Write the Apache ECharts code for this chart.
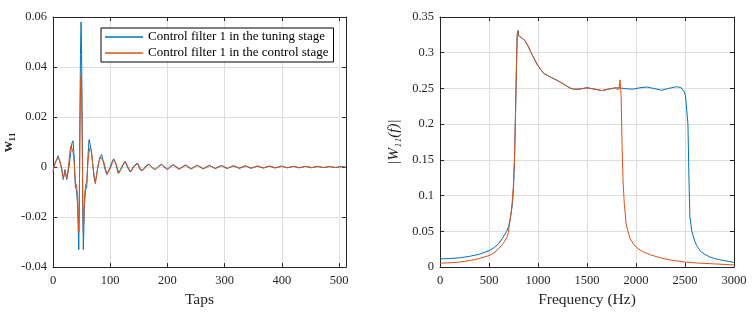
<!DOCTYPE html>
<html>
<head>
<meta charset="utf-8">
<script src="https://cdn.jsdelivr.net/npm/echarts@6/dist/echarts.min.js"></script>
<style>html,body{margin:0;padding:0;background:#fff}#c{width:754px;height:313px}</style>
</head>
<body>
<div id="c"></div>
<script>
// ---- Left panel: filter taps (tap index, coefficient) ----
var w11Tuning = [
[0,-0.0015],[3,0.001],[5,0.0005],[9,0.0045],[12,0.002],[15,0.0],[18,-0.005],[21,-0.001],[24,-0.005],
[28,0.0],[31,0.006],[33,0.0095],[35,0.0105],[37,0.004],[39,-0.008],[41,-0.009],[43,-0.015],[45,-0.033],
[46,-0.016],[47,0.02],[48,0.045],[49,0.058],[50,0.045],[51,0.02],[52,-0.016],[53,-0.033],[55,-0.015],
[57,-0.009],[59,-0.008],[61,0.004],[63,0.011],[65,0.009],[67,0.006],[70,0.0],[72,-0.004],[74,-0.006],
[77,-0.002],[80,0.002],[82,0.004],[85,0.005],[88,0.002],[91,-0.001],[94,-0.003],[97,-0.003],[100,0.0],
[103,0.002],[106,0.0033],[110,0.001],[114,-0.0026],[118,-0.001],[122,0.001],[126,0.0023],[130,0.0],
[135,-0.002],[140,0.0],[147,0.0016],[153,-0.0013],[157,-0.0012],[162,0.0004],[167,0.0012],[173,-0.0002],
[178,-0.0011],[184,0.0003],[189,0.0011],[195,-0.0002],[200,-0.001],[205,0.0003],[210,0.0009],[220,-0.0009],
[226,0.0001],[231,0.0008],[241,-0.0008],[247,0.0001],[252,0.0007],[262,-0.0007],[273,0.0007],[283,-0.0006],
[294,0.0006],[304,-0.0006],[315,0.0005],[325,-0.0005],[336,0.0005],[346,-0.0005],[357,0.0004],[367,-0.0004],
[378,0.0004],[388,-0.0004],[399,0.0004],[409,-0.0003],[420,0.0003],[430,-0.0003],[441,0.0003],[451,-0.0003],
[462,0.0003],[472,-0.0002],[483,0.0002],[493,-0.0002],[504,0.0002],[512,-0.0001]
];
var w11Control = [
[0,-0.002],[3,0.0015],[6,0.001],[9,0.004],[12,0.0025],[15,-0.001],[18,-0.0045],[21,-0.0015],[24,-0.0045],
[27,0.0],[29,0.005],[31,0.0085],[33,0.0075],[35,0.006],[37,0.002],[39,-0.006],[41,-0.007],[43,-0.012],
[45,-0.026],[46,-0.013],[47,0.012],[48,0.03],[49,0.037],[50,0.03],[51,0.012],[52,-0.013],[53,-0.026],
[55,-0.012],[57,-0.007],[59,-0.006],[61,0.002],[63,0.006],[65,0.0078],[67,0.007],[70,0.0],[72,-0.0045],
[74,-0.0067],[77,-0.002],[80,0.002],[83,0.004],[86,0.0045],[89,0.002],[92,-0.001],[95,-0.0028],[98,-0.0025],
[101,0.0],[104,0.002],[107,0.003],[111,0.0008],[115,-0.0024],[119,-0.0009],[123,0.001],[127,0.0021],
[131,0.0],[136,-0.0019],[141,0.0],[148,0.0015],[154,-0.0012],[158,-0.0011],[163,0.0003],[168,0.0011],
[174,-0.0002],[179,-0.001],[185,0.0002],[190,0.001],[196,-0.0001],[201,-0.0009],[206,0.0002],[211,0.0009],
[221,-0.0008],[227,0.0],[232,0.0008],[242,-0.0007],[248,0.0001],[253,0.0007],[263,-0.0007],[274,0.0006],
[284,-0.0006],[295,0.0006],[305,-0.0005],[316,0.0005],[326,-0.0005],[337,0.0004],[347,-0.0004],[358,0.0004],
[368,-0.0004],[379,0.0004],[389,-0.0003],[400,0.0003],[410,-0.0003],[421,0.0003],[431,-0.0003],[442,0.0003],
[452,-0.0002],[463,0.0002],[473,-0.0002],[484,0.0002],[494,-0.0002],[505,0.0002],[512,-0.0001]
];
// ---- Right panel: magnitude response (Hz, |W11(f)|) ----
var magTuning = [
[0,0.0115],[100,0.012],[200,0.013],[300,0.015],[400,0.018],[500,0.023],[550,0.027],[600,0.033],[643,0.0416],
[680,0.05],[700,0.057],[720,0.07],[740,0.09],[750,0.11],[760,0.15],[770,0.21],[780,0.28],[788,0.325],
[796,0.331],[802,0.324],[820,0.3216],[840,0.32],[867,0.317],[900,0.309],[930,0.3],[956,0.293],[990,0.284],
[1024,0.277],[1060,0.271],[1100,0.268],[1126,0.266],[1200,0.261],[1262,0.256],[1320,0.251],[1364,0.249],
[1420,0.249],[1500,0.251],[1560,0.2495],[1653,0.247],[1720,0.249],[1800,0.251],[1850,0.2505],[1900,0.2495],
[1970,0.249],[2040,0.251],[2112,0.252],[2180,0.25],[2262,0.2475],[2330,0.25],[2415,0.2525],[2460,0.251],
[2490,0.246],[2505,0.24],[2520,0.241],[2530,0.2],[2541,0.12],[2550,0.07],[2570,0.05],[2600,0.036],
[2619,0.03],[2660,0.022],[2700,0.018],[2755,0.014],[2800,0.012],[2850,0.0105],[2900,0.009],[2950,0.008],[3000,0.0065]
];
var magControl = [
[0,0.0055],[100,0.006],[200,0.007],[300,0.009],[400,0.012],[510,0.0165],[560,0.021],[600,0.026],[643,0.0325],
[680,0.041],[697,0.048],[714,0.065],[730,0.08],[748,0.112],[760,0.15],[770,0.21],[780,0.28],[788,0.325],
[796,0.331],[802,0.324],[820,0.3216],[840,0.32],[867,0.317],[900,0.309],[930,0.3],[956,0.293],[990,0.284],
[1024,0.277],[1060,0.271],[1100,0.268],[1126,0.266],[1200,0.261],[1262,0.256],[1320,0.251],[1364,0.249],
[1420,0.249],[1500,0.251],[1560,0.2495],[1653,0.247],[1720,0.249],[1786,0.251],[1815,0.248],[1828,0.252],
[1837,0.262],[1848,0.24],[1858,0.17],[1868,0.12],[1880,0.09],[1900,0.06],[1918,0.05],[1939,0.04],[1980,0.031],
[2020,0.026],[2078,0.021],[2150,0.017],[2250,0.013],[2350,0.01],[2500,0.007],[2650,0.0055],[2800,0.0045],[3000,0.003]
];
var leftXTicks = [0, 512, 100];
var leftYTicks = [-0.04, 0.06, 0.02];
var rightXTicks = [0, 3000, 500];
var rightYTicks = [0, 0.35, 0.05];
var seriesNames = ['Control filter 1 in the tuning stage', 'Control filter 1 in the control stage'];

var FONT = 'Liberation Serif';
var BLUE = '#0072BD', ORANGE = '#D95319';
var gridLine = {show: true, lineStyle: {color: '#dedede', width: 1}};
var axLine = {show: true, onZero: false, lineStyle: {color: '#262626', width: 1}};
var tick = {show: true, inside: true, length: 4, lineStyle: {color: '#262626'}};
var lbl = {fontFamily: FONT, fontSize: 12.5, color: '#262626', formatter: function (v) { return String(+v.toFixed(4)); }};

function xAx(grid, t, pos, name) {
  var o = {type: 'value', gridIndex: grid, position: pos, min: t[0], max: t[1], interval: t[2],
    axisLine: axLine, axisTick: tick, splitLine: pos === 'bottom' ? gridLine : {show: false},
    axisLabel: pos === 'bottom' ? Object.assign({margin: 7, showMaxLabel: t[1] % t[2] === 0}, lbl) : {show: false}};
  if (name) { o.name = name; o.nameLocation = 'middle'; o.nameGap = 22;
    o.nameTextStyle = {fontFamily: FONT, fontSize: 15.5, color: '#262626'}; }
  return o;
}
function yAx(grid, t, pos, name, ns, gap) {
  var o = {type: 'value', gridIndex: grid, position: pos, min: t[0], max: t[1], interval: t[2],
    axisLine: axLine, axisTick: tick, splitLine: pos === 'left' ? gridLine : {show: false},
    axisLabel: pos === 'left' ? Object.assign({margin: 6}, lbl) : {show: false}};
  if (name) { o.name = name; o.nameLocation = 'middle'; o.nameGap = gap;
    o.nameTextStyle = Object.assign({fontFamily: FONT, fontSize: 15, color: '#262626'}, ns); }
  return o;
}
function ln(name, data, color, xi, yi) {
  return {type: 'line', name: name, data: data, xAxisIndex: xi, yAxisIndex: yi, symbol: 'none', color: color,
    lineStyle: {color: color, width: 1}, itemStyle: {color: color}, animation: false};
}

var chart = echarts.init(document.getElementById('c'), null, {renderer: 'canvas'});
chart.setOption({
  animation: false,
  backgroundColor: '#fff',
  grid: [
    {left: 53, right: 408, top: 17, bottom: 41},
    {left: 440, right: 20, top: 17, bottom: 41}
  ],
  xAxis: [
    xAx(0, leftXTicks, 'bottom', 'Taps'), xAx(0, leftXTicks, 'top'),
    xAx(1, rightXTicks, 'bottom', 'Frequency (Hz)'), xAx(1, rightXTicks, 'top')
  ],
  yAxis: [
    yAx(0, leftYTicks, 'left', 'w\u2081\u2081', {fontWeight: 'bold', fontSize: 15}, 37), yAx(0, leftYTicks, 'right'),
    yAx(1, rightYTicks, 'left', '|W\u2081\u2081(f)|', {fontStyle: 'italic', fontSize: 15}, 38), yAx(1, rightYTicks, 'right')
  ],
  legend: {
    orient: 'vertical', left: 101, top: 28, padding: [2, 5, 2, 4], itemGap: 2,
    icon: 'rect', itemWidth: 38, itemHeight: 1.4, borderColor: '#000', borderWidth: 1, backgroundColor: '#fff',
    itemStyle: {borderWidth: 0},
    textStyle: {fontFamily: FONT, fontSize: 13, color: '#000', lineHeight: 14},
    data: [
      {name: seriesNames[0], itemStyle: {color: BLUE, borderWidth: 0}},
      {name: seriesNames[1], itemStyle: {color: ORANGE, borderWidth: 0}}
    ]
  },
  series: [
    ln(seriesNames[0], w11Tuning, BLUE, 0, 0),
    ln(seriesNames[1], w11Control, ORANGE, 0, 0),
    ln(null, magTuning, BLUE, 2, 2),
    ln(null, magControl, ORANGE, 2, 2)
  ]
});
</script>
</body>
</html>
